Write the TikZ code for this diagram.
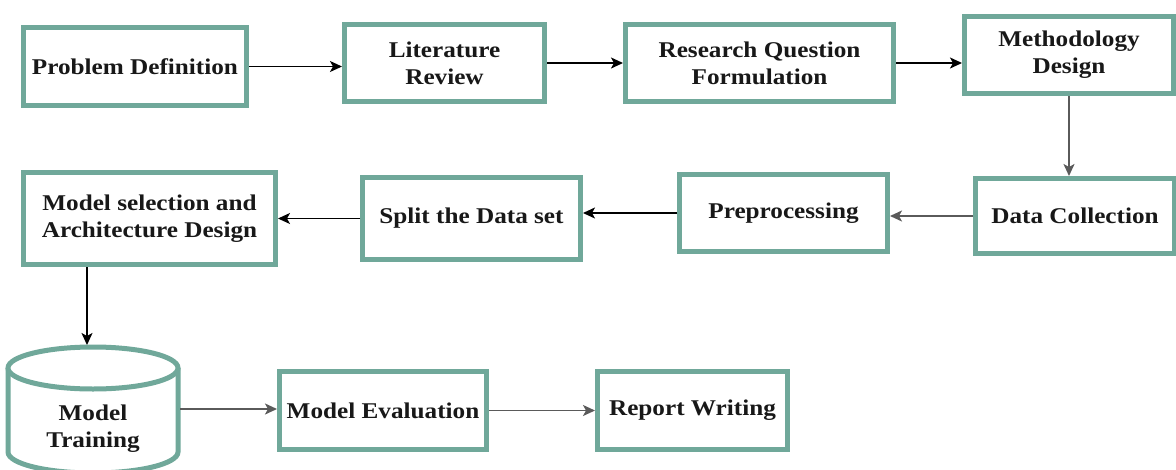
\documentclass[tikz,border=0pt]{standalone}
\usepackage{fontspec}
\setmainfont{Liberation Serif}[FakeStretch=1.12]
\usetikzlibrary{arrows.meta}
\definecolor{boxteal}{RGB}{112,168,154}
\definecolor{textdark}{RGB}{24,24,24}
\definecolor{arrowgray}{RGB}{90,90,90}
\begin{document}
\begin{tikzpicture}[x=1pt,y=-1pt,
  lbl/.style={font=\fontsize{22.5}{27}\selectfont\bfseries, text=textdark, align=center},
  stage/.style={lbl, draw=boxteal, line width=5pt, fill=white, inner sep=0pt},
  cyl/.style={draw=boxteal, line width=5pt},
  flow/.style={-{Stealth[length=12pt,width=11pt,inset=3pt]}, line width=1.6pt, draw=black},
  flowgray/.style={flow, draw=arrowgray}]
  \fill[white] (0,0) rectangle (1176,469);
  \useasboundingbox (0,0) rectangle (1176,469);

  % first row
  \node[stage, minimum width=223pt, minimum height=78pt] (pd) at (135,66.5) {Problem Definition};
  \node[stage, minimum width=200pt, minimum height=77pt] (lr) at (444.5,63) {Literature\\Review};
  \node[stage, minimum width=268pt, minimum height=77pt] (rq) at (759.5,63) {Research Question\\Formulation};
  \node[stage, minimum width=209pt, minimum height=77pt] (md) at (1069,55) {Methodology\\Design};

  % second row
  \node[stage, minimum width=199pt, minimum height=75pt] (dc) at (1075,216) {Data Collection};
  \node[stage, minimum width=208pt, minimum height=77pt] (prep) at (783.5,213) {Preprocessing};
  \node[stage, minimum width=218pt, minimum height=82pt] (split) at (471.5,218.5) {Split the Data set};
  \node[stage, minimum width=252pt, minimum height=92pt] (ms) at (149.5,218.5) {Model selection and\\Architecture Design};

  % third row: training store drawn as a cylinder
  \fill[white] (8,368) rectangle (178,452);
  \fill[white] (93,452) ellipse [x radius=85, y radius=21];
  \draw[cyl] (8,368) -- (8,452) arc[start angle=180, end angle=0, x radius=85, y radius=21] -- (178,368);
  \draw[cyl, fill=white] (93,368) ellipse [x radius=85, y radius=21];
  \node[lbl] (mt) at (93,429) {Model\\Training};
  \coordinate (mttop) at (87,345);
  \coordinate (mtside) at (180,409);

  \node[stage, minimum width=207pt, minimum height=78pt] (me) at (383,410.5) {Model Evaluation};
  \node[stage, minimum width=190pt, minimum height=78pt] (rw) at (692.5,410.5) {Report Writing};

  % connectors
  \draw[flow] (pd.east) -- (pd.east -| lr.west);
  \draw[flow] (lr.east) -- (lr.east -| rq.west);
  \draw[flow] (rq.east) -- (rq.east -| md.west);
  \draw[flowgray] (md.south) -- (md.south |- dc.north);
  \draw[flowgray] (dc.west) -- (dc.west -| prep.east);
  \draw[flow] (prep.west) -- (prep.west -| split.east);
  \draw[flow] (split.west) -- (split.west -| ms.east);
  \draw[flow] (ms.south -| mttop) -- (mttop);
  \draw[flowgray] (mtside) -- (mtside -| me.west);
  \draw[flowgray] (me.east) -- (me.east -| rw.west);
\end{tikzpicture}
\end{document}
